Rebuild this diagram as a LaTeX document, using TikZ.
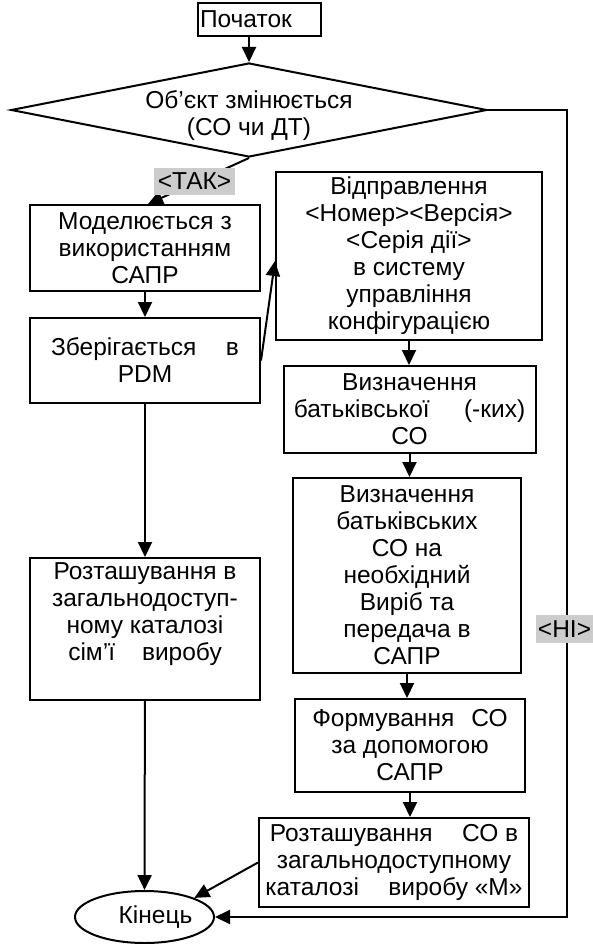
\documentclass[tikz,border=0pt]{standalone}
\usepackage{fontspec}
\setmainfont{Liberation Sans}
\usetikzlibrary{shapes.geometric,arrows.meta}
\begin{document}
\begin{tikzpicture}[x=1pt,y=-1pt,
  every node/.style={font=\fontsize{24.5}{27}\selectfont},
  box/.style={draw, line width=2pt, rectangle, inner sep=2pt, align=center},
  lbl/.style={fill=black!20, inner sep=1pt},
  arr/.style={line width=2pt, -{Triangle[length=15pt,width=14pt]}}]
\useasboundingbox (0,0) rectangle (593,944);
\node[box, minimum width=123pt, minimum height=33pt, text width=119pt, align=left] (start) at (259.5,19.5) {Початок};
\node[draw, diamond, aspect=5.06, minimum width=476pt, minimum height=94pt, inner sep=0pt, line width=2pt] (dia) at (249,110) {\raisebox{-13pt}[0pt][0pt]{\begin{tabular}{@{}c@{}}Об'єкт змінюється\\(СО чи ДТ)\end{tabular}}};
\node[box, minimum width=230pt, minimum height=86pt] (mod) at (145,248) {Моделюється з\\використанням\\САПР};
\node[box, minimum width=230pt, minimum height=85pt] (zb) at (145,360.5) {Зберігається\hspace{1.2em}в\\PDM};
\node[box, minimum width=266pt, minimum height=168pt] (vid) at (409,256) {Відправлення\\<Номер><Версія>\\<Серія дії>\\в систему\\управління\\конфігурацією};
\node[box, minimum width=252pt, minimum height=87pt] (vb1) at (409.5,409.5) {Визначення\\батьківської\hspace{1.4em}(-ких)\\СО};
\node[box, minimum width=228pt, minimum height=195pt] (vb2) at (407,575.5) {Визначення\\батьківських\\СО на\\необхідний\\Виріб та\\передача в\\САПР};
\node[box, minimum width=230pt, minimum height=93pt] (form) at (410,745.5) {Формування\hspace{0.7em}СО\\за допомогою\\САПР};
\node[box, minimum width=270pt, minimum height=89pt] (roz) at (394,862.5) {Розташування\hspace{1.2em}СО в\\загальнодоступному\\каталозі\hspace{1.2em}виробу «М»};
\node[box, minimum width=230pt, minimum height=142pt] (lroz) at (145,629) {Розташування в\\загальнодоступ-\\ному каталозі\\сім’ї\hspace{1.1em}виробу\\ \strut};
\node[draw, ellipse, line width=2pt, minimum width=139pt, minimum height=52pt, inner sep=0pt] (kin) at (144.5,917) {\hspace{22pt}Кінець};
\coordinate (r) at (567,110);
\draw[arr] (start.south -| dia.north) -- (dia.north);
\draw[arr] (dia.south) -- ([xshift=3pt]mod.north);
\node[lbl, minimum width=81pt, minimum height=27pt] (tak) at (194.5,181.5) {<ТАК>};
\draw[arr] (mod) -- (zb);
\draw[arr] (zb.east) -- ([yshift=-5pt]vid.west);
\draw[arr] (vid.south) -- (vid.south |- vb1.north);
\draw[arr] (vb1.south) -- (vb1.south |- vb2.north);
\draw[arr] (vb2.south) -- (vb2.south |- form.north);
\draw[arr] (form.south) -- (form.south |- roz.north);
\draw[arr] (roz.west) -- (kin.north east);
\draw[arr] (zb) -- (lroz);
\draw[arr] (lroz) -- (kin);
\draw[arr] (dia.east) -- (r) -- (r |- kin.east) -- (kin.east);
\node[lbl, minimum width=57pt, minimum height=28pt] (ni) at (564.5,629) {<НІ>};
\end{tikzpicture}
\end{document}
